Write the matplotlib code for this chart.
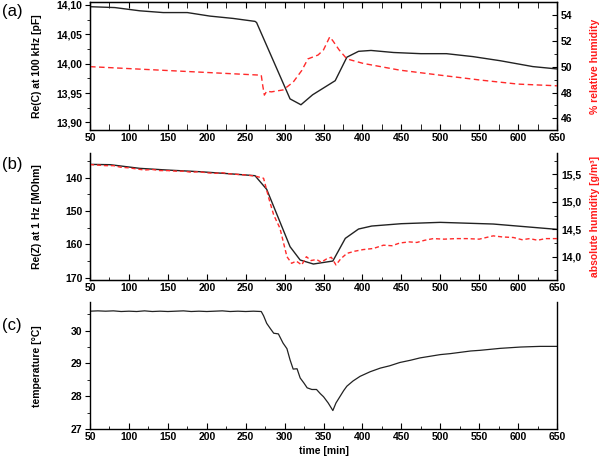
import matplotlib
matplotlib.use("Agg")
import matplotlib.pyplot as plt
from matplotlib.ticker import MultipleLocator, FuncFormatter

plt.rcParams['font.family'] = ['Liberation Sans', 'DejaVu Sans']

# (a) capacitance and relative humidity
t_cap = [50, 82, 114, 144, 175, 204, 234, 262, 264, 307, 321, 336, 365, 380, 395, 411, 440, 475, 508, 542, 577, 619, 650]
cap = [14.097, 14.0955, 14.090, 14.087, 14.087, 14.081, 14.077, 14.072, 14.070, 13.940, 13.930, 13.947, 13.971,
       14.011, 14.021, 14.0225, 14.019, 14.017, 14.017, 14.012, 14.005, 13.995, 13.991]
t_rh = [50, 100, 150, 200, 250, 270, 272, 274, 277, 283, 298, 311, 322, 330, 343, 350, 358, 362, 370, 380,
        401, 448, 500, 552, 600, 650]
rh = [50.0, 49.85, 49.7, 49.55, 49.4, 49.34, 48.5, 47.8, 48.1, 48.05, 48.2, 48.8, 49.7, 50.6, 50.9, 51.3, 52.3,
      52.0, 51.3, 50.6, 50.25, 49.73, 49.34, 48.96, 48.65, 48.52]

# (b) resistance and absolute humidity
t_res = [50, 76, 114, 149, 191, 234, 262, 277, 307, 320, 337, 362, 378, 395, 412, 450, 500, 568, 650]
res = [136.0, 136.1, 137.2, 137.7, 138.2, 138.9, 139.4, 143.5, 160.7, 164.7, 165.9, 165.0, 158.2, 155.4, 154.5,
       153.8, 153.4, 153.9, 155.5]
t_ah = [50, 60, 70, 80, 90, 100, 110, 120, 130, 140, 150, 160, 170, 180, 190, 200, 210, 220, 230, 240, 250, 262,
        273, 280, 286, 294, 303, 309, 315, 322, 328, 334, 341, 347, 354, 360, 366, 372, 380, 390, 401, 414, 427,
        438, 448, 460, 470, 480, 491, 505, 520, 534, 550, 568, 580, 594, 605, 615, 625, 635, 650]
ah = [15.68, 15.67, 15.66, 15.66, 15.63, 15.62, 15.60, 15.58, 15.59, 15.57, 15.57, 15.56, 15.56, 15.54, 15.55,
      15.53, 15.52, 15.53, 15.51, 15.50, 15.49, 15.47, 15.43, 15.05, 14.76, 14.52, 14.00, 13.88, 13.92, 13.85,
      14.00, 13.93, 13.95, 13.90, 13.96, 13.99, 13.85, 13.96, 14.06, 14.10, 14.13, 14.15, 14.21, 14.20, 14.25,
      14.27, 14.26, 14.30, 14.33, 14.32, 14.33, 14.33, 14.32, 14.38, 14.36, 14.35, 14.31, 14.33, 14.30, 14.33,
      14.33]

# (c) temperature
t_temp = [50, 60, 70, 80, 90, 100, 110, 120, 130, 140, 150, 160, 170, 180, 190, 200, 210, 220, 230, 240, 250,
          260, 270, 273, 277, 282, 286, 292, 298, 303, 307, 311, 316, 320, 325, 329, 335, 341, 346, 350, 356,
          362, 366, 371, 376, 380, 388, 397, 410, 423, 435, 448, 462, 474, 487, 500, 513, 526, 539, 551, 564,
          577, 590, 603, 615, 628, 640, 650]
temp = [30.59, 30.60, 30.59, 30.60, 30.58, 30.59, 30.58, 30.60, 30.58, 30.59, 30.58, 30.59, 30.60, 30.58,
        30.59, 30.58, 30.59, 30.60, 30.58, 30.59, 30.58, 30.59, 30.58, 30.45, 30.22, 30.05, 29.92, 29.90,
        29.62, 29.45, 29.11, 28.83, 28.84, 28.56, 28.40, 28.26, 28.21, 28.21, 28.08, 27.99, 27.80, 27.57,
        27.80, 27.99, 28.18, 28.31, 28.47, 28.61, 28.75, 28.86, 28.93, 29.03, 29.10, 29.17, 29.22, 29.27,
        29.30, 29.34, 29.38, 29.40, 29.43, 29.46, 29.48, 29.50, 29.51, 29.52, 29.52, 29.52]

fig = plt.figure(figsize=(6.01, 4.65), dpi=100)
ax_a = fig.add_axes([0.1498, 0.7204, 0.777, 0.2753])
ax_b = fig.add_axes([0.1498, 0.3978, 0.777, 0.2731])
ax_c = fig.add_axes([0.1498, 0.0768, 0.777, 0.2738])

fs = 7.5
blk = '#222222'
red = '#ff2a2a'
comma = lambda d: FuncFormatter(lambda v, p: f"{v:.{d}f}".replace('.', ','))


def style(ax, top=False):
    ax.set_xlim(50, 650)
    ax.xaxis.set_major_locator(MultipleLocator(50))
    ax.xaxis.set_minor_locator(MultipleLocator(25))
    ax.tick_params(axis='x', which='both', direction='in', top=top, labelsize=fs, pad=2)
    ax.tick_params(axis='x', which='major', length=4)
    ax.tick_params(axis='x', which='minor', length=4 if top else 2.5)
    ax.tick_params(axis='y', which='both', direction='out', labelsize=fs, pad=2)
    ax.tick_params(axis='y', which='major', length=3.5)
    ax.tick_params(axis='y', which='minor', length=2)
    for lb in ax.get_xticklabels() + ax.get_yticklabels():
        lb.set_fontweight('bold')
    if not top:
        ax.spines['top'].set_visible(False)
    for s in ax.spines.values():
        s.set_linewidth(1.0)


def style_right(ax):
    ax.tick_params(axis='y', which='both', direction='in', labelsize=fs, pad=3)
    ax.tick_params(axis='y', which='major', length=3.5)
    ax.tick_params(axis='y', which='minor', length=2)
    for lb in ax.get_yticklabels():
        lb.set_fontweight('bold')


# panel (a)
ax_a.plot(t_cap, cap, color=blk, lw=1.0, zorder=3)
ax_a.set_ylim(13.887, 14.105)
ax_a.yaxis.set_major_locator(MultipleLocator(0.05))
ax_a.yaxis.set_minor_locator(MultipleLocator(0.025))
ax_a.yaxis.set_major_formatter(comma(2))
ax_a.set_ylabel('Re(C) at 100 kHz [pF]', fontsize=fs, fontweight='bold')
style(ax_a, top=True)
ax_a2 = ax_a.twinx()
ax_a2.plot(t_rh, rh, color=red, lw=1.0, ls=(0, (4, 2.5)))
ax_a2.set_ylim(45.1, 55.0)
ax_a2.yaxis.set_major_locator(MultipleLocator(2))
ax_a2.yaxis.set_minor_locator(MultipleLocator(1))
ax_a2.set_ylabel('% relative humidity', fontsize=fs, fontweight='bold', color='#ff1a1a')
style_right(ax_a2)

# panel (b)
ax_b.plot(t_res, res, color=blk, lw=1.0, zorder=3)
ax_b.set_ylim(170.7, 132.6)
ax_b.yaxis.set_major_locator(MultipleLocator(10))
ax_b.yaxis.set_minor_locator(MultipleLocator(5))
ax_b.set_ylabel('Re(Z) at 1 Hz [MOhm]', fontsize=fs, fontweight='bold')
style(ax_b)
ax_b2 = ax_b.twinx()
ax_b2.plot(t_ah, ah, color=red, lw=1.0, ls=(0, (3, 2)))
ax_b2.set_ylim(13.575, 15.89)
ax_b2.yaxis.set_major_locator(MultipleLocator(0.5))
ax_b2.yaxis.set_minor_locator(MultipleLocator(0.25))
ax_b2.yaxis.set_major_formatter(comma(1))
ax_b2.set_ylabel('absolute humidity [g/m³]', fontsize=fs, fontweight='bold', color='#ff1a1a')
ax_b2.spines['top'].set_visible(False)
style_right(ax_b2)

# panel (c)
ax_c.plot(t_temp, temp, color=blk, lw=0.9)
ax_c.set_ylim(27.0, 30.87)
ax_c.yaxis.set_major_locator(MultipleLocator(1))
ax_c.yaxis.set_minor_locator(MultipleLocator(0.5))
ax_c.set_ylabel('temperature [°C]', fontsize=fs, fontweight='bold')
ax_c.set_xlabel('time [min]', fontsize=fs, fontweight='bold', labelpad=3)
style(ax_c)

for ax in (ax_a, ax_b, ax_c):
    ax.yaxis.set_label_coords(-0.103, 0.5)
for ax in (ax_a2, ax_b2):
    ax.yaxis.set_label_coords(1.07, 0.5)

fig.text(0.003, 0.975, '(a)', fontsize=12, va='center')
fig.text(0.003, 0.647, '(b)', fontsize=12, va='center')
fig.text(0.003, 0.30, '(c)', fontsize=12, va='center')

fig.savefig('out.png', dpi=100)
